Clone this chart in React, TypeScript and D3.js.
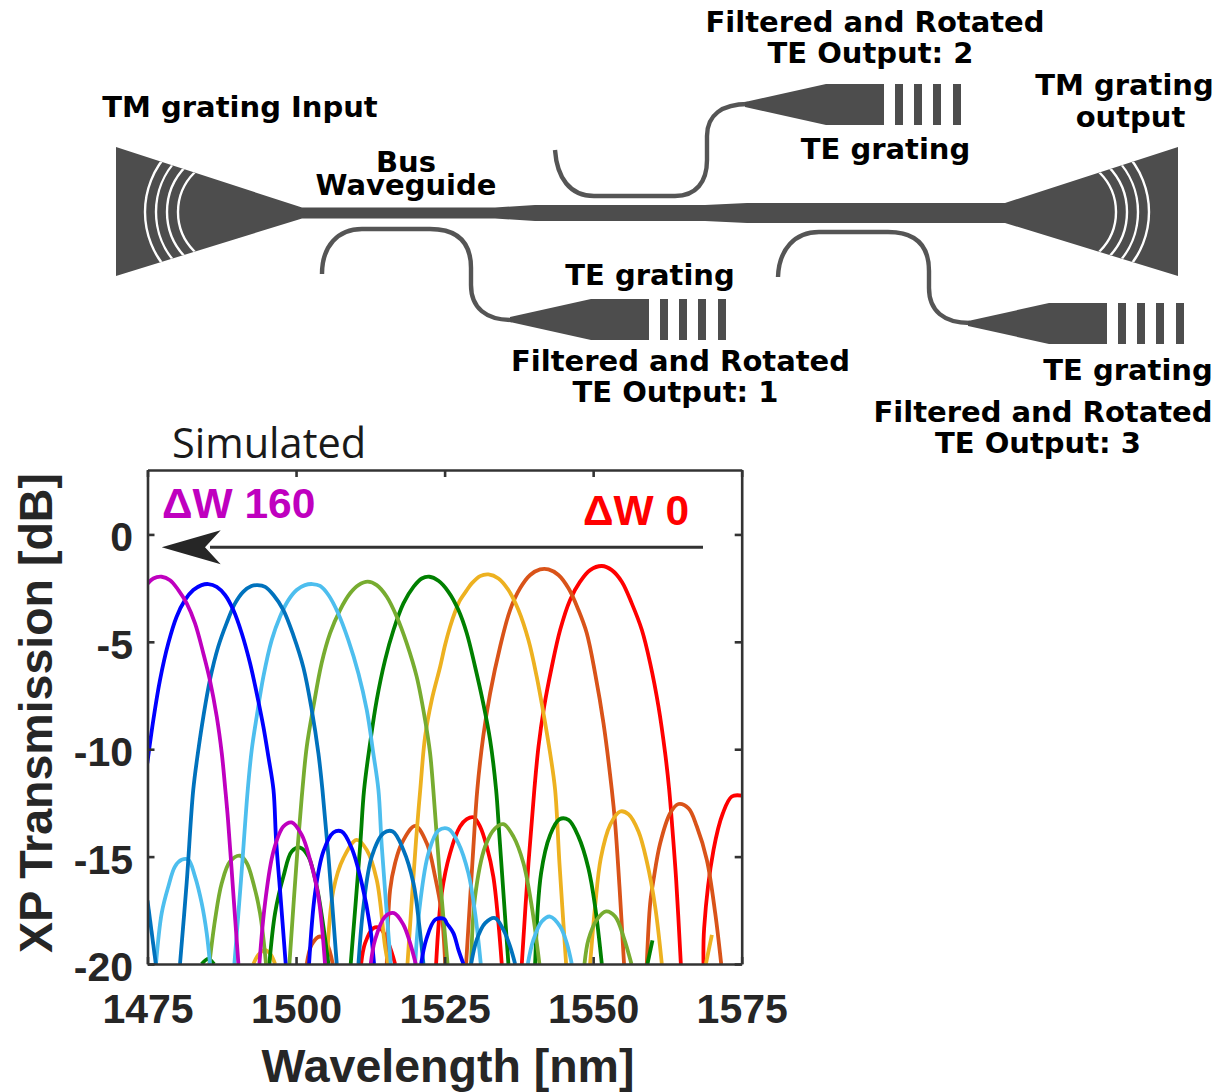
import React, { useEffect, useRef } from "react";
import * as d3 from "d3";

type Pt = [number, number];

const xTicks = [1475, 1500, 1525, 1550, 1575];
const yTicks = [0, -5, -10, -15, -20];

const red = "#FF0000", orange = "#D95319", yellow = "#EDB120", green = "#008000", olive = "#77AC30", sky = "#4DBEEE", teal = "#0072BD", blue = "#0000FF", magenta = "#BF00BF";

// main lobes: [wavelength nm, XP transmission dB]
const mainRed: Pt[] = [[1537.99,-20],[1539.11,-15.31],[1540.1,-11.89],[1540.8,-9.88],[1541.75,-8.02],[1543.04,-6.16],[1544.44,-4.45],[1546.1,-3.06],[1547.8,-2.2],[1549.49,-1.66],[1551.46,-1.47],[1553.14,-1.66],[1554.82,-2.2],[1556.5,-3.21],[1558.2,-4.45],[1559.6,-6.0],[1561.0,-8.02],[1562.12,-10.19],[1562.8,-11.89],[1563.35,-13.76],[1563.97,-16.08],[1564.76,-20]];
const mainOrange: Pt[] = [[1528.62,-20],[1529.85,-14.53],[1530.5,-11.89],[1531.5,-9.41],[1532.66,-7.4],[1534.34,-5.23],[1536.02,-3.52],[1537.7,-2.51],[1539.4,-1.89],[1541.07,-1.63],[1542.48,-1.63],[1544.16,-1.89],[1545.85,-2.51],[1547.53,-3.52],[1548.93,-4.6],[1550.33,-6.47],[1551.74,-8.79],[1553.14,-11.89],[1553.7,-13.45],[1554.43,-16.39],[1555.2,-20]];
const mainYellow: Pt[] = [[1518.75,-20],[1520.2,-14.22],[1520.9,-11.89],[1521.72,-9.41],[1522.84,-7.7],[1524.25,-6.16],[1525.08,-5.15],[1525.92,-4.3],[1526.77,-3.6],[1527.6,-3.06],[1528.62,-2.64],[1529.57,-2.28],[1530.97,-1.94],[1532.38,-1.86],[1534.06,-2.05],[1535.74,-2.59],[1537.43,-3.52],[1539.11,-4.92],[1540.5,-6.62],[1541.64,-8.33],[1542.76,-10.19],[1543.6,-11.89],[1544.33,-15.31],[1545.45,-20]];
const mainGreen: Pt[] = [[1509.2,-20],[1510.78,-14.53],[1511.45,-11.89],[1512.46,-9.72],[1513.58,-7.7],[1514.98,-5.85],[1516.4,-4.45],[1518.07,-3.21],[1519.76,-2.44],[1521.16,-2.05],[1522.45,-1.97],[1523.96,-2.16],[1525.64,-2.67],[1527.33,-3.52],[1528.73,-4.6],[1530.13,-6.16],[1531.5,-7.86],[1532.66,-9.57],[1533.67,-11.89],[1534.23,-14.07],[1535.74,-20]];
const mainOlive: Pt[] = [[1498.88,-20],[1500.28,-14.53],[1501.07,-11.89],[1501.8,-9.88],[1502.92,-8.02],[1504.3,-6.0],[1505.73,-4.6],[1507.4,-3.52],[1509.1,-2.74],[1510.5,-2.36],[1512.07,-2.2],[1513.58,-2.36],[1515.27,-2.9],[1516.95,-3.83],[1518.63,-5.07],[1520.3,-6.62],[1521.72,-8.64],[1522.56,-10.19],[1523.1,-11.89],[1524.25,-16.08],[1525.5,-20]];
const mainSky: Pt[] = [[1489.62,-20],[1490.74,-16.08],[1491.87,-11.89],[1492.54,-10.03],[1493.38,-8.48],[1494.5,-6.62],[1495.9,-4.92],[1497.3,-3.83],[1498.71,-3.06],[1500.1,-2.59],[1501.5,-2.36],[1502.75,-2.31],[1504.04,-2.4],[1505.45,-2.82],[1507.1,-3.68],[1508.8,-4.92],[1510.5,-6.47],[1511.9,-8.17],[1513.0,-10.19],[1513.86,-11.89],[1514.43,-14.53],[1515.94,-20]];
const mainTeal: Pt[] = [[1480.47,-20],[1481.6,-16.19],[1482.7,-11.89],[1483.56,-10.03],[1484.4,-8.48],[1485.5,-6.78],[1486.9,-5.23],[1488.3,-4.14],[1489.73,-3.21],[1491.1,-2.67],[1492.5,-2.4],[1493.5,-2.36],[1494.8,-2.44],[1496.2,-2.82],[1497.87,-3.52],[1499.55,-4.7],[1501.24,-6.2],[1502.64,-8.17],[1503.76,-10.19],[1504.44,-11.89],[1505.45,-14.99],[1506.85,-20]];
const mainBlue: Pt[] = [[1474.97,-10.65],[1475.98,-8.64],[1477.1,-6.78],[1478.5,-5.07],[1479.9,-3.83],[1481.3,-3.06],[1482.7,-2.59],[1484.1,-2.36],[1485.24,-2.31],[1486.65,-2.44],[1488.05,-2.82],[1489.45,-3.52],[1490.86,-4.6],[1492.26,-6.0],[1493.38,-7.4],[1494.5,-8.95],[1495.34,-10.34],[1496.2,-11.89],[1496.64,-14.22],[1497.3,-16.55],[1498.26,-20]];
const mainMagenta: Pt[] = [[1474.97,-2.31],[1475.98,-2.05],[1477.39,-1.97],[1478.79,-2.13],[1480.2,-2.59],[1481.6,-3.21],[1483.0,-4.14],[1484.4,-5.54],[1485.5,-6.78],[1486.65,-8.48],[1487.5,-10.19],[1488.1,-11.89],[1488.55,-13.29],[1489.4,-16.55],[1490.3,-20]];

// side lobes near the floor of the plot
const sideRed: Pt[][] = [
  [[1510.95,-20],[1511.62,-19.03],[1513.02,-18.33],[1514.14,-18.33],[1515.55,-19.03],[1516.67,-20]],
  [[1523.57,-20],[1524.52,-16.7],[1525.92,-14.84],[1527.6,-13.6],[1528.73,-13.26],[1529.85,-13.17],[1530.97,-13.6],[1532.1,-14.53],[1533.2,-15.93],[1534.06,-18.1],[1534.62,-20]],
  [[1568.57,-20],[1568.68,-18.33],[1570.26,-14.69],[1571.83,-12.98],[1573.34,-12.2],[1575,-12.16]],
];
const sideOrange: Pt[][] = [
  [[1501.8,-20],[1502.64,-19.1],[1504.04,-18.72],[1505.17,-19.03],[1506.18,-20]],
  [[1515.27,-20],[1515.83,-16.55],[1516.67,-15.3],[1517.79,-14.38],[1520.04,-13.57],[1522.0,-14.38],[1523.4,-15.93],[1524.5,-17.63],[1525.1,-20]],
  [[1559.03,-20],[1559.6,-17.17],[1560.16,-16.08],[1561.28,-14.38],[1562.96,-12.98],[1564.36,-12.55],[1566.05,-12.75],[1567.45,-13.6],[1569.13,-15.15],[1570.54,-17.63],[1571.55,-20]],
];
const sideYellow: Pt[][] = [
  [[1492.82,-20],[1493.66,-19.57],[1494.78,-19.34],[1495.74,-19.57],[1496.47,-20]],
  [[1505.17,-20],[1506.29,-16.55],[1507.97,-15.07],[1510.2,-14.22],[1511.9,-14.69],[1513.58,-16.08],[1514.98,-19.2],[1515.5,-20]],
  [[1549.49,-20],[1550.33,-17.32],[1551.29,-15.07],[1552.86,-13.52],[1554.54,-12.9],[1555.95,-13.03],[1557.63,-13.83],[1559.03,-15.23],[1560.43,-17.32],[1561.56,-20]],
  [[1568.97,-20],[1569.98,-18.64]],
];
const sideGreen: Pt[][] = [
  [[1484.12,-20],[1485.24,-19.76],[1486.2,-20]],
  [[1495.51,-20],[1496.47,-17.63],[1497.87,-15.93],[1499.27,-14.76],[1500.68,-14.58],[1502.08,-15.0],[1503.48,-16.39],[1504.6,-18.25],[1505.45,-20]],
  [[1540.23,-20],[1541.24,-15.77],[1542.76,-13.99],[1544.33,-13.26],[1545.85,-13.29],[1547.53,-14.07],[1549.2,-15.54],[1550.33,-17.32],[1551.46,-20]],
  [[1559.14,-20],[1559.98,-18.9]],
];
const sideOlive: Pt[][] = [
  [[1485.41,-20],[1486.37,-17.94],[1487.49,-16.24],[1488.89,-15.23],[1490.57,-14.96],[1491.7,-15.3],[1492.82,-16.24],[1493.94,-17.63],[1494.95,-20]],
  [[1529.46,-20],[1530.13,-16.86],[1531.82,-14.53],[1533.5,-13.68],[1534.9,-13.49],[1536.59,-14.07],[1538.27,-15.31],[1539.67,-17.32],[1540.96,-20]],
  [[1548.54,-20],[1549.2,-18.87],[1550.62,-17.94],[1552.19,-17.55],[1553.7,-17.79],[1555.1,-18.72],[1556.45,-20]],
];
const sideSky: Pt[][] = [
  [[1476.43,-20],[1477.39,-17.63],[1478.51,-16.39],[1479.63,-15.46],[1480.75,-15.15],[1481.88,-15.15],[1483.0,-15.93],[1484.12,-17.17],[1484.96,-18.56],[1485.52,-20]],
  [[1520.04,-20],[1520.88,-17.17],[1522.28,-14.84],[1523.96,-13.79],[1525.65,-13.71],[1527.33,-14.38],[1529.0,-15.77],[1530.13,-17.63],[1531.09,-20]],
  [[1539.0,-20],[1539.95,-18.87],[1541.35,-18.02],[1542.76,-17.79],[1544.44,-18.25],[1545.56,-19.03],[1546.4,-20]],
];
const sideTeal: Pt[][] = [
  [[1475,-17.04],[1476.4,-20]],
  [[1510.5,-20],[1511.34,-17.32],[1512.74,-15.0],[1514.7,-13.91],[1516.27,-13.83],[1518.07,-14.69],[1519.76,-16.24],[1520.76,-18.25],[1521.44,-20]],
  [[1529.46,-20],[1530.41,-18.87],[1531.82,-18.1],[1533.5,-17.86],[1534.9,-18.41],[1536.02,-19.18],[1536.87,-20]],
];
const sideBlue: Pt[][] = [
  [[1502.19,-20],[1503.2,-16.7],[1504.6,-14.76],[1506.29,-13.88],[1507.69,-13.83],[1509.37,-14.61],[1511.06,-16.24],[1512.46,-18.25],[1513.13,-20]],
  [[1521.05,-20],[1521.9,-18.87],[1523.4,-17.94],[1524.92,-17.9],[1525.36,-18.1],[1526.48,-18.56],[1527.33,-19.34],[1528.17,-20]],
];
const sideMagenta: Pt[][] = [
  [[1493.83,-20],[1494.78,-17.17],[1496.19,-14.76],[1497.87,-13.6],[1499.27,-13.41],[1500.96,-13.99],[1502.36,-15.15],[1503.76,-16.86],[1504.88,-20]],
  [[1512.57,-20],[1513.3,-18.87],[1514.98,-17.79],[1516.5,-17.63],[1518.07,-18.17],[1519.2,-19.03],[1520.15,-20]],
];

const series: { color: string; main: Pt[]; sides: Pt[][] }[] = [
  { color: red, main: mainRed, sides: sideRed },
  { color: orange, main: mainOrange, sides: sideOrange },
  { color: yellow, main: mainYellow, sides: sideYellow },
  { color: green, main: mainGreen, sides: sideGreen },
  { color: olive, main: mainOlive, sides: sideOlive },
  { color: sky, main: mainSky, sides: sideSky },
  { color: teal, main: mainTeal, sides: sideTeal },
  { color: blue, main: mainBlue, sides: sideBlue },
  { color: magenta, main: mainMagenta, sides: sideMagenta },
];

const diagramLabels: { text: string; x: number; y: number }[] = [
  { text: "Filtered and Rotated", x: 875, y: 32 },
  { text: "TE Output: 2", x: 870.5, y: 63 },
  { text: "TM grating", x: 1124.5, y: 95 },
  { text: "output", x: 1130.5, y: 127 },
  { text: "TM grating Input", x: 240, y: 117 },
  { text: "TE grating", x: 885.5, y: 159 },
  { text: "Bus", x: 406, y: 172 },
  { text: "Waveguide", x: 406, y: 195 },
  { text: "TE grating", x: 650, y: 285 },
  { text: "Filtered and Rotated", x: 680.5, y: 371 },
  { text: "TE Output: 1", x: 675.5, y: 402 },
  { text: "TE grating", x: 1128, y: 380 },
  { text: "Filtered and Rotated", x: 1043, y: 422 },
  { text: "TE Output: 3", x: 1038, y: 453 },
];

const W = 1217, H = 1092;
const box = { l: 147.5, r: 741.7, t: 470, b: 964 };
const x = d3.scaleLinear().domain([1475, 1575]).range([box.l, box.r]);
const y = d3.scaleLinear().domain([3, -20]).range([box.t, box.b]);
const lobeLine = d3.line<Pt>().x((d) => x(d[0])).y((d) => y(d[1])).curve(d3.curveCatmullRom.alpha(0.5));

const ink = "#4d4d4d";
const axisInk = "#333333";
const labelFont = "'DejaVu Sans', sans-serif";
const chartFont = "'Liberation Sans', Arial, sans-serif";

function Coupler({ dx, dy }: { dx: number; dy: number }) {
  // output taper with its four grating teeth, drawn at the offset of output 2
  const teeth = [895, 914, 933, 953];
  return (
    <g transform={`translate(${dx},${dy})`} fill={ink}>
      <path d="M745,102 L826,84 L884,84 L884,125 L826,125 L745,107 Z" />
      {teeth.map((t) => <rect key={t} x={t} y={84} width={8} height={41} />)}
    </g>
  );
}

function Diagram() {
  const arcs = [86, 76, 65, 55.5];
  const arcSet = arcs.map((r, i) => {
    const left = 145 + i * 11;
    return `M${left + r},${212 - r} A${r},${r} 0 0 0 ${left + r},${212 + r}`;
  });
  return (
    <g>
      <defs>
        <clipPath id="gratingClip"><path d="M116,147 L116,276 L302,218 L302,208 Z" /></clipPath>
      </defs>
      <g fill={ink}>
        <path d="M116,147 L302,207.5 L495,207.5 L535,205 L705,205 L747,203 L1005,203 L1178,147 L1178,276 L1005,223 L747,223 L705,221 L535,221 L495,218.5 L302,218.5 L116,276 Z" />
      </g>
      <g clipPath="url(#gratingClip)" fill="none" stroke="#fff" strokeWidth={2.4}>
        {arcSet.map((d) => <path key={d} d={d} />)}
      </g>
      <g transform="translate(1294,0) scale(-1,1)">
        <g clipPath="url(#gratingClip)" fill="none" stroke="#fff" strokeWidth={2.4}>
          {arcSet.map((d) => <path key={d} d={d} />)}
        </g>
      </g>
      <g fill="none" stroke="#555" strokeWidth={4.4}>
        <path d="M555,150 C557,178 570,196 594,196 L675,196 C696,196 707,182 707,160 L707,136 C707,115 722,104 748,104" />
        <path d="M322,274 C322,246 338,229 362,229 L430,229 C458,229 471,243 471,268 L471,285 C471,308 486,320 512,320" />
        <path d="M778,277 C779,249 795,232 819,232 L888,232 C916,232 929,246 929,271 L929,288 C929,311 944,323 970,323" />
      </g>
      <Coupler dx={0} dy={0} />
      <Coupler dx={-235} dy={215} />
      <Coupler dx={223} dy={219} />
      <g fontFamily={labelFont} fontWeight="bold" fontSize={29} textAnchor="middle" fill="#000">
        {diagramLabels.map((l) => (
          <text key={l.x + l.text} x={l.x} y={l.y}>{l.text}</text>
        ))}
      </g>
    </g>
  );
}

export default function App() {
  const axes = useRef<SVGGElement | null>(null);
  useEffect(() => {
    const g = d3.select(axes.current);
    g.selectAll("*").remove();
    const styleAxis = (sel: any) => {
      sel.selectAll("path").attr("stroke", axisInk).attr("stroke-width", 2.6);
      sel.selectAll("line").attr("stroke", axisInk).attr("stroke-width", 2.6);
      sel.selectAll("text").attr("fill", "#262626").attr("font-family", chartFont).attr("font-weight", "bold").attr("font-size", 41);
    };
    const fmt = (d: any) => String(d);
    const bottom = g.append("g").attr("transform", `translate(0,${box.b})`).call(d3.axisBottom(x).tickValues(xTicks).tickFormat(fmt).tickSizeInner(-7).tickSizeOuter(0).tickPadding(30));
    const top = g.append("g").attr("transform", `translate(0,${box.t})`).call(d3.axisTop(x).tickValues(xTicks).tickFormat(() => "").tickSizeInner(-7).tickSizeOuter(0));
    const left = g.append("g").attr("transform", `translate(${box.l},0)`).call(d3.axisLeft(y).tickValues(yTicks).tickFormat(fmt).tickSizeInner(-7).tickSizeOuter(0).tickPadding(14.5));
    const right = g.append("g").attr("transform", `translate(${box.r},0)`).call(d3.axisRight(y).tickValues(yTicks).tickFormat(() => "").tickSizeInner(-7).tickSizeOuter(0));
    [bottom, top, left, right].forEach(styleAxis);
    bottom.selectAll("text").attr("dy", "0.71em");
    left.selectAll("text").attr("dy", "0.40em");
  }, []);

  const arrowY = y(-0.6);
  return (
    <svg width={W} height={H} viewBox={`0 0 ${W} ${H}`} style={{ position: "absolute", left: 0, top: 0, background: "#fff" }}>
      <defs>
        <clipPath id="plotClip"><rect x={box.l} y={box.t} width={box.r - box.l} height={box.b - box.t} /></clipPath>
      </defs>
      <Diagram />
      <text x={172} y={458} fontFamily="'Open Sans', sans-serif" fontSize={41.5} fill="#1a1a1a">Simulated</text>
      <g clipPath="url(#plotClip)" fill="none" strokeWidth={3.8}>
        {series.map((s) => (
          <g key={s.color} stroke={s.color}>
            {s.sides.map((pts, i) => <path key={i} d={lobeLine(pts) ?? ""} />)}
            <path d={lobeLine(s.main) ?? ""} />
          </g>
        ))}
      </g>
      <g ref={axes} />
      <line x1={703} x2={210} y1={arrowY} y2={arrowY} stroke="#333" strokeWidth={3} />
      <path d={`M161.7,${arrowY} L220.7,${arrowY - 17} L205,${arrowY} L220.7,${arrowY + 17} Z`} fill="#262626" />
      <text x={162} y={518} fontFamily={chartFont} fontWeight="bold" fontSize={42.5} fill={magenta}>ΔW 160</text>
      <text x={583} y={525} fontFamily={chartFont} fontWeight="bold" fontSize={42.5} fill={red}>ΔW 0</text>
      <text x={448} y={1082} textAnchor="middle" fontFamily={chartFont} fontWeight="bold" fontSize={46.5} fill="#262626">Wavelength [nm]</text>
      <text transform="translate(52,713) rotate(-90)" textAnchor="middle" fontFamily={chartFont} fontWeight="bold" fontSize={46.5} fill="#262626">XP Transmission [dB]</text>
    </svg>
  );
}
